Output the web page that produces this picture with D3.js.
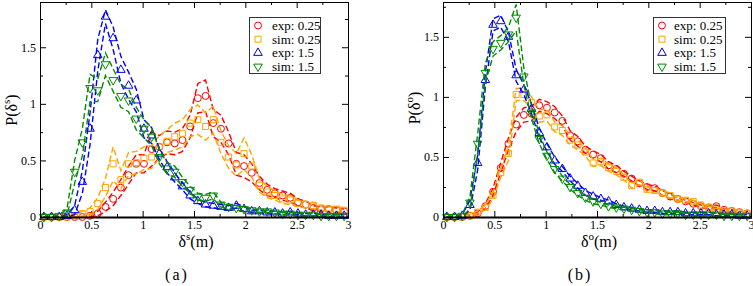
<!DOCTYPE html>
<html>
<head>
<meta charset="utf-8">
<script src="https://cdn.jsdelivr.net/npm/d3@7"></script>
<style>
body { margin: 0; background: #fff; }
svg text { font-family: "Liberation Serif", "Times New Roman", serif; fill: #000; }
</style>
</head>
<body>
<svg id="chart" width="753" height="286"></svg>
<script>
// bin centres (m)
var binCenters = [0.0375, 0.1125, 0.1875, 0.2625, 0.3375, 0.4125, 0.4875, 0.5625, 0.6375, 0.7125,
    0.7875, 0.8625, 0.9375, 1.0125, 1.0875, 1.1625, 1.2375, 1.3125, 1.3875, 1.4625,
    1.5375, 1.6125, 1.6875, 1.7625, 1.8375, 1.9125, 1.9875, 2.0625, 2.1375, 2.2125,
    2.2875, 2.3625, 2.4375, 2.5125, 2.5875, 2.6625, 2.7375, 2.8125, 2.8875, 2.9625];

var xTicks = [0, 0.5, 1, 1.5, 2, 2.5, 3];
var xMinorTicks = [0.25, 0.75, 1.25, 1.75, 2.25, 2.75];
var yTicks = [0, 0.5, 1, 1.5];
var yMinorTicks = [0.25, 0.75, 1.25, 1.75];
var legendLabels = ["exp: 0.25", "sim: 0.25", "exp: 1.5", "sim: 1.5"];

// panel (a): delta^s
var aExp025 = [0, 0, 0, 0, 0, 0, 0.01, 0.03, 0.09, 0.16,
    0.26, 0.37, 0.47, 0.47, 0.60, 0.62, 0.66, 0.65, 0.68, 0.80,
    1.05, 1.07, 0.83, 0.78, 0.65, 0.47, 0.45, 0.39, 0.30, 0.24,
    0.21, 0.19, 0.17, 0.13, 0.11, 0.08, 0.07, 0.07, 0.06, 0.05];
var aExp025Err = [0, 0, 0, 0, 0, 0, 0.01, 0.02, 0.04, 0.06,
    0.07, 0.08, 0.08, 0.08, 0.15, 0.10, 0.10, 0.10, 0.10, 0.10,
    0.13, 0.14, 0.12, 0.12, 0.10, 0.10, 0.10, 0.08, 0.06, 0.05,
    0.04, 0.04, 0.04, 0.03, 0.03, 0.02, 0.02, 0.02, 0.02, 0.02];
var aSim025 = [0, 0, 0, 0, 0.01, 0.03, 0.05, 0.12, 0.26, 0.47,
    0.33, 0.47, 0.48, 0.52, 0.53, 0.62, 0.67, 0.71, 0.74, 0.83,
    0.86, 0.80, 0.86, 0.66, 0.53, 0.46, 0.56, 0.45, 0.28, 0.22,
    0.19, 0.16, 0.15, 0.12, 0.11, 0.10, 0.08, 0.07, 0.07, 0.06];
var aSim025Err = [0, 0, 0, 0, 0.01, 0.02, 0.03, 0.05, 0.08, 0.15,
    0.08, 0.10, 0.10, 0.10, 0.10, 0.10, 0.10, 0.12, 0.12, 0.12,
    0.13, 0.12, 0.12, 0.10, 0.10, 0.10, 0.14, 0.10, 0.06, 0.05,
    0.04, 0.04, 0.04, 0.03, 0.03, 0.03, 0.02, 0.02, 0.02, 0.02];
var aExp15 = [0, 0, 0, 0.01, 0.06, 0.31, 0.78, 1.43, 1.77, 1.58,
    1.30, 1.16, 1.03, 0.78, 0.72, 0.56, 0.44, 0.35, 0.27, 0.19,
    0.14, 0.11, 0.10, 0.09, 0.08, 0.10, 0.07, 0.05, 0.05, 0.04,
    0.04, 0.03, 0.04, 0.03, 0.02, 0.02, 0.02, 0.01, 0.01, 0.01];
var aExp15Err = [0, 0, 0, 0.01, 0.04, 0.10, 0.14, 0.14, 0.06, 0.10,
    0.12, 0.12, 0.10, 0.08, 0.07, 0.05, 0.05, 0.04, 0.03, 0.03,
    0.02, 0.02, 0.02, 0.02, 0.02, 0.02, 0.02, 0.01, 0.01, 0.01,
    0.01, 0.01, 0.01, 0.01, 0.01, 0.01, 0.01, 0.01, 0.01, 0.01];
var aSim15 = [0, 0, 0.01, 0.04, 0.40, 0.66, 1.14, 1.12, 1.35, 1.21,
    1.07, 1.03, 0.87, 0.78, 0.71, 0.53, 0.43, 0.40, 0.31, 0.24,
    0.18, 0.17, 0.19, 0.11, 0.09, 0.08, 0.07, 0.06, 0.05, 0.05,
    0.04, 0.03, 0.03, 0.02, 0.02, 0.02, 0.01, 0.01, 0.01, 0.01];
var aSim15Err = [0, 0, 0.01, 0.03, 0.10, 0.12, 0.12, 0.10, 0.10, 0.10,
    0.10, 0.10, 0.10, 0.08, 0.08, 0.06, 0.05, 0.05, 0.04, 0.03,
    0.03, 0.03, 0.03, 0.02, 0.02, 0.02, 0.02, 0.01, 0.01, 0.01,
    0.01, 0.01, 0.01, 0.01, 0.01, 0.01, 0.01, 0.01, 0.01, 0.01];

// panel (b): delta^o
var bExp025 = [0, 0, 0, 0.01, 0.03, 0.09, 0.21, 0.41, 0.61, 0.77,
    0.85, 0.86, 0.93, 0.91, 0.87, 0.80, 0.68, 0.63, 0.56, 0.52,
    0.49, 0.43, 0.40, 0.36, 0.32, 0.28, 0.25, 0.24, 0.20, 0.17,
    0.15, 0.13, 0.11, 0.09, 0.08, 0.09, 0.06, 0.05, 0.04, 0.03];
var bExp025Err = [0, 0, 0, 0.01, 0.01, 0.02, 0.03, 0.04, 0.05, 0.06,
    0.06, 0.06, 0.05, 0.05, 0.05, 0.04, 0.04, 0.04, 0.03, 0.03,
    0.03, 0.03, 0.03, 0.02, 0.02, 0.02, 0.02, 0.02, 0.02, 0.02,
    0.01, 0.01, 0.01, 0.01, 0.01, 0.01, 0.01, 0.01, 0.01, 0.01];
var bSim025 = [0, 0, 0, 0.01, 0.04, 0.08, 0.18, 0.37, 0.53, 1.02,
    1.02, 0.95, 0.84, 0.85, 0.75, 0.72, 0.64, 0.60, 0.54, 0.45,
    0.46, 0.41, 0.38, 0.33, 0.26, 0.29, 0.23, 0.22, 0.20, 0.18,
    0.15, 0.14, 0.13, 0.10, 0.08, 0.06, 0.05, 0.05, 0.04, 0.03];
var bSim025Err = [0, 0, 0, 0.01, 0.01, 0.02, 0.03, 0.04, 0.06, 0.05,
    0.05, 0.05, 0.05, 0.05, 0.04, 0.04, 0.04, 0.04, 0.03, 0.03,
    0.03, 0.03, 0.03, 0.02, 0.02, 0.02, 0.02, 0.02, 0.02, 0.02,
    0.01, 0.01, 0.01, 0.01, 0.01, 0.01, 0.01, 0.01, 0.01, 0.01];
var bExp15 = [0, 0, 0.01, 0.10, 0.45, 1.14, 1.60, 1.63, 1.50, 1.18,
    1.06, 0.90, 0.70, 0.58, 0.47, 0.40, 0.32, 0.26, 0.20, 0.17,
    0.15, 0.13, 0.10, 0.08, 0.07, 0.06, 0.05, 0.05, 0.04, 0.04,
    0.04, 0.03, 0.03, 0.03, 0.03, 0.02, 0.02, 0.02, 0.01, 0.01];
var bExp15Err = [0, 0, 0.01, 0.04, 0.06, 0.06, 0.05, 0.05, 0.04, 0.05,
    0.04, 0.04, 0.04, 0.03, 0.03, 0.02, 0.02, 0.02, 0.02, 0.02,
    0.01, 0.01, 0.01, 0.01, 0.01, 0.01, 0.01, 0.01, 0.01, 0.01,
    0.01, 0.01, 0.01, 0.01, 0.01, 0.01, 0.01, 0.01, 0.01, 0.01];
var bSim15 = [0, 0, 0.01, 0.12, 0.61, 1.20, 1.40, 1.45, 1.52, 1.66,
    1.17, 0.87, 0.65, 0.51, 0.40, 0.32, 0.25, 0.20, 0.16, 0.13,
    0.11, 0.09, 0.08, 0.07, 0.06, 0.05, 0.04, 0.04, 0.03, 0.03,
    0.03, 0.02, 0.02, 0.02, 0.02, 0.02, 0.01, 0.01, 0.01, 0.01];
var bSim15Err = [0, 0, 0.01, 0.05, 0.08, 0.08, 0.06, 0.06, 0.06, 0.11,
    0.07, 0.05, 0.04, 0.03, 0.03, 0.02, 0.02, 0.02, 0.02, 0.02,
    0.01, 0.01, 0.01, 0.01, 0.01, 0.01, 0.01, 0.01, 0.01, 0.01,
    0.01, 0.01, 0.01, 0.01, 0.01, 0.01, 0.01, 0.01, 0.01, 0.01];

var seriesColors = ["#ff0000", "#ffa500", "#0000ff", "#008c00"];
var seriesSymbols = [
    {type: d3.symbolCircle, size: 38, rotate: 0},
    {type: d3.symbolSquare, size: 36, rotate: 0},
    {type: d3.symbolTriangle, size: 32, rotate: 0},
    {type: d3.symbolTriangle, size: 32, rotate: 180}
];

var svg = d3.select("#chart");
var fmt = d3.format("");

function drawPanel (p) {
    var x = d3.scaleLinear().domain([0, 3]).range([p.left, p.right]);
    var y = d3.scaleLinear().domain([0, p.yMax]).range([p.bottom, p.top]);
    var g = svg.append("g");

    // ticks point inwards on all four sides
    function axis (gen, values, size, tx, ty, labels, pad) {
        var a = gen.tickValues(values).tickSize(size).tickSizeOuter(0)
            .tickPadding(pad || 3)
            .tickFormat(labels ? fmt : "");
        var ax = g.append("g")
            .attr("transform", "translate(" + tx + "," + ty + ")")
            .call(a);
        ax.select(".domain").remove();
        ax.selectAll("line").attr("stroke", "#000");
        ax.selectAll("text")
            .attr("font-family", "Liberation Serif, serif")
            .attr("font-size", "12px");
    }
    var yMinor = yMinorTicks.filter(function (v) { return v <= p.yMax; });
    axis(d3.axisBottom(x), xTicks, -6, 0, p.bottom, true, 3);
    axis(d3.axisBottom(x), xMinorTicks, -3, 0, p.bottom, false);
    axis(d3.axisTop(x), xTicks, -6, 0, p.top, false);
    axis(d3.axisTop(x), xMinorTicks, -3, 0, p.top, false);
    axis(d3.axisLeft(y), yTicks, -6, p.left, 0, true, 4);
    axis(d3.axisLeft(y), yMinor, -3, p.left, 0, false);
    axis(d3.axisRight(y), yTicks, -6, p.right, 0, false);
    axis(d3.axisRight(y), yMinor, -3, p.right, 0, false);

    var line = d3.line()
        .x(function (d) { return x(d[0]); })
        .y(function (d) { return y(d[1]); });

    p.series.forEach(function (s, i) {
        var upper = binCenters.map(function (c, k) { return [c, s.mean[k] + s.err[k]]; });
        var lower = binCenters.map(function (c, k) { return [c, Math.max(0, s.mean[k] - s.err[k])]; });
        [upper, lower].forEach(function (band) {
            g.append("path")
                .attr("d", line(band))
                .attr("fill", "none")
                .attr("stroke", seriesColors[i])
                .attr("stroke-width", 1.4)
                .attr("stroke-dasharray", "6,3");
        });
        var sym = d3.symbol().type(seriesSymbols[i].type).size(seriesSymbols[i].size);
        g.selectAll(".m" + i)
            .data(binCenters.map(function (c, k) { return [c, s.mean[k]]; }))
            .enter().append("path")
            .attr("class", "m" + i)
            .attr("d", sym)
            .attr("transform", function (d) {
                return "translate(" + x(d[0]) + "," + y(d[1]) + ") rotate(" + seriesSymbols[i].rotate + ")";
            })
            .attr("fill", "none")
            .attr("stroke", seriesColors[i])
            .attr("stroke-width", 1);
    });

    // frame
    g.append("rect")
        .attr("x", p.left + 0.5).attr("y", p.top + 0.5)
        .attr("width", p.right - p.left).attr("height", p.bottom - p.top)
        .attr("fill", "none").attr("stroke", "#000").attr("stroke-width", 1);
    g.append("line")
        .attr("x1", p.left).attr("x2", p.right + 1)
        .attr("y1", p.bottom + 0.5).attr("y2", p.bottom + 0.5)
        .attr("stroke", "#000").attr("stroke-width", 2);

    // legend
    var lg = g.append("g").attr("transform", "translate(" + p.legendX + "," + p.legendY + ")");
    lg.append("rect")
        .attr("x", 0.5).attr("y", 0.5).attr("width", p.legendW).attr("height", 56)
        .attr("fill", "#fff").attr("stroke", "#333").attr("stroke-width", 1);
    legendLabels.forEach(function (label, i) {
        var cy = 8.5 + i * 13.7;
        lg.append("path")
            .attr("d", d3.symbol().type(seriesSymbols[i].type).size(seriesSymbols[i].size)())
            .attr("transform", "translate(9," + cy + ") rotate(" + seriesSymbols[i].rotate + ")")
            .attr("fill", "none").attr("stroke", seriesColors[i]).attr("stroke-width", 1);
        lg.append("text")
            .attr("x", p.legendTextX).attr("y", cy + 4.5)
            .attr("font-size", "13px")
            .text(label);
    });

    // axis titles
    var xt = g.append("text")
        .attr("x", (p.left + p.right) / 2 + 2).attr("y", 247)
        .attr("text-anchor", "middle").attr("font-size", "16px");
    xt.append("tspan").text("δ");
    xt.append("tspan").attr("font-size", "11px").attr("dy", -7).text(p.sup);
    xt.append("tspan").attr("dy", 7).text("(m)");

    var yt = g.append("text")
        .attr("transform", "translate(" + (p.left - 23) + "," + p.yTitleY + ") rotate(-90)")
        .attr("text-anchor", "middle").attr("font-size", "16px");
    yt.append("tspan").text("P(δ");
    yt.append("tspan").attr("font-size", "11px").attr("dy", -7).text(p.sup);
    yt.append("tspan").attr("dy", 7).text(")");

    g.append("text")
        .attr("x", p.left + 137).attr("y", 280)
        .attr("text-anchor", "middle").attr("font-size", "16px")
        .attr("letter-spacing", "2px")
        .text(p.caption);
}

drawPanel({
    left: 40, right: 348, top: 2, bottom: 217, yMax: 1.9,
    legendX: 249, legendY: 17, legendW: 71, legendTextX: 23,
    sup: "s", caption: "(a)", yTitleY: 110,
    series: [
        {mean: aExp025, err: aExp025Err},
        {mean: aSim025, err: aSim025Err},
        {mean: aExp15, err: aExp15Err},
        {mean: aSim15, err: aSim15Err}
    ]
});

drawPanel({
    left: 443, right: 751, top: 2, bottom: 217, yMax: 1.79,
    legendX: 653, legendY: 17, legendW: 72, legendTextX: 21,
    sup: "o", caption: "(b)", yTitleY: 108,
    series: [
        {mean: bExp025, err: bExp025Err},
        {mean: bSim025, err: bSim025Err},
        {mean: bExp15, err: bExp15Err},
        {mean: bSim15, err: bSim15Err}
    ]
});
</script>
</body>
</html>
